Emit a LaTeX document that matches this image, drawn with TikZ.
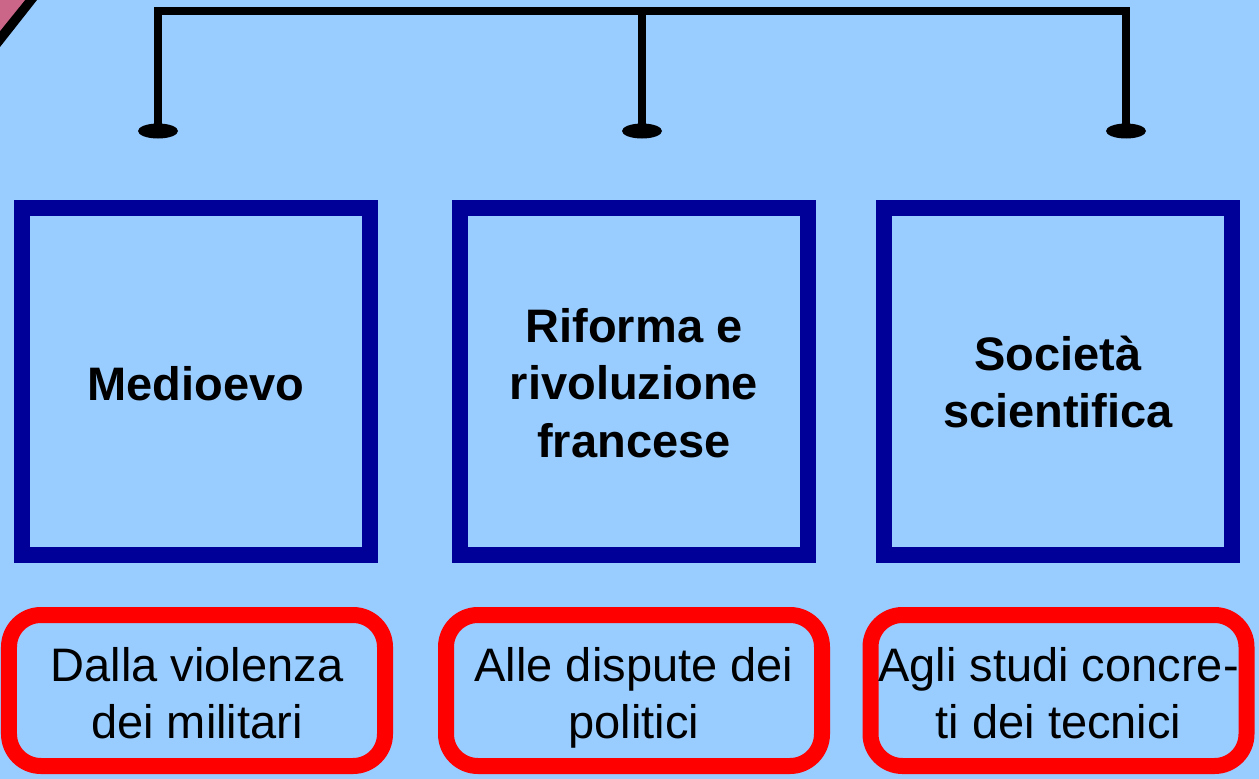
\documentclass[tikz,border=0pt]{standalone}
\usepackage{fontspec}
\setmainfont{Liberation Sans}
\usetikzlibrary{shapes.geometric}
\definecolor{bg}{RGB}{153,204,255}
\definecolor{navy}{RGB}{0,0,153}
\definecolor{pinkc}{RGB}{204,102,136}
\newcommand{\lines}[1]{\parbox[t]{420bp}{\centering #1}}
\begin{document}
\begin{tikzpicture}[x=1bp,y=-1bp,
 titlebox/.style={draw=navy, line width=16bp, minimum width=348bp, minimum height=347bp, inner sep=0pt},
 notebox/.style={draw=red, line width=16bp, rounded corners=32bp, minimum width=376bp, minimum height=151bp, inner sep=0pt},
 titletext/.style={anchor=base, inner sep=0pt, font=\fontsize{47bp}{57.5bp}\selectfont\bfseries},
 notetext/.style={anchor=base, inner sep=0pt, font=\fontsize{47bp}{57bp}\selectfont},
 foot/.style={ellipse, fill=black, minimum width=40bp, minimum height=15bp, inner sep=0pt},
 bus/.style={line width=8bp, line join=miter}]
\fill[bg] (0,0) rectangle (1259,779);
\useasboundingbox (0,0) rectangle (1259,779);
% corner of a shape cut off at the top left
\fill[black] (0,0) -- (37,0) -- (0,47) -- cycle;
\fill[pinkc] (0,0) -- (25,0) -- (0,31) -- cycle;
% bus
\coordinate (b1) at (158,11);
\coordinate (b2) at (642,11);
\coordinate (b3) at (1126,11);
\node[foot] (f1) at (158,131) {};
\node[foot] (f2) at (642,131) {};
\node[foot] (f3) at (1126,131) {};
\draw[bus] (f1.center) -- (b1) -- (b3) -- (f3.center);
\draw[bus] (b2) -- (f2.center);
% title boxes
\node[titlebox] (t1) at (196,381.5) {};
\node[titlebox] (t2) at (634,381.5) {};
\node[titlebox] (t3) at (1058,381.5) {};
\node[titletext] (t1x) at (196,400.5) {\lines{Medioevo}};
\node[titletext] (t2x) at (634,342) {\lines{Riforma e\\rivoluzione\\francese}};
\node[titletext] (t3x) at (1058,370) {\lines{Società\\scientifica}};
% note boxes
\node[notebox] (n1) at (197,690.5) {};
\node[notebox] (n2) at (634,690.5) {};
\node[notebox] (n3) at (1058.5,690.5) {};
\node[notetext] (n1x) at (197,681) {\lines{Dalla violenza\\dei militari}};
\node[notetext] (n2x) at (634,681) {\lines{Alle dispute dei\\politici}};
\node[notetext] (n3x) at (1058.5,681) {\lines{Agli studi concre-\\ti dei tecnici}};
\end{tikzpicture}
\end{document}
